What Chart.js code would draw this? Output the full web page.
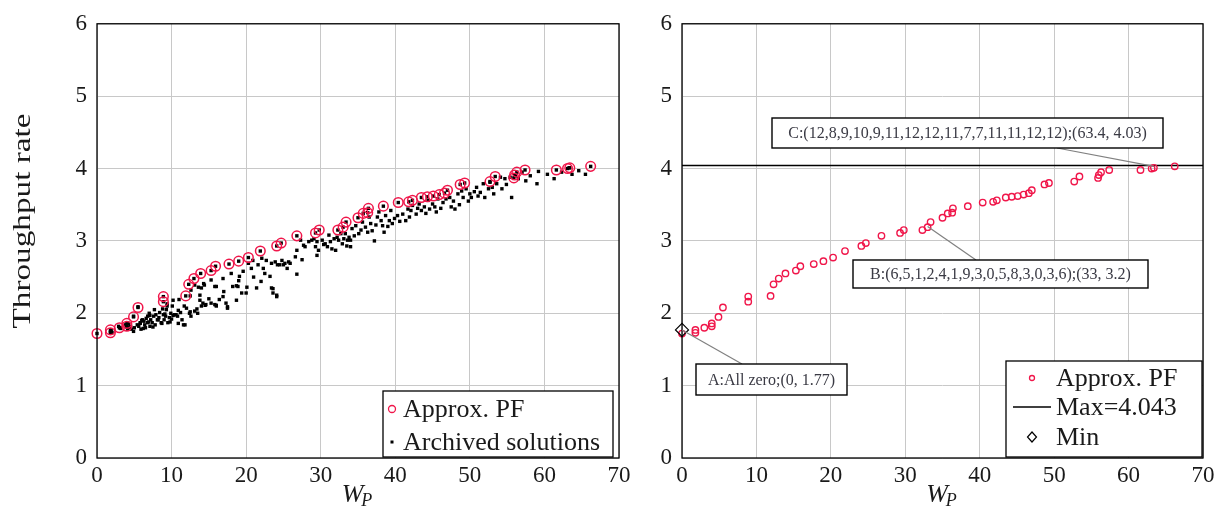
<!DOCTYPE html>
<html><head><meta charset="utf-8">
<script src="https://cdn.jsdelivr.net/npm/chart.js@4"></script>
<style>
html,body{margin:0;padding:0;background:#fff;}
#wrap{position:relative;width:1222px;height:523px;background:#fff;}
canvas{position:absolute;top:0;}
#c1{left:0;} #c2{left:640px;}
</style></head><body>
<div id="wrap"><canvas id="c1" width="640" height="523" style="width:640px;height:523px"></canvas><canvas id="c2" width="582" height="523" style="width:582px;height:523px"></canvas></div>
<script>
// ---------- data ----------
const xTicks = [0,10,20,30,40,50,60,70];
const yTicks = [0,1,2,3,4,5,6];
const xLabel = ['W','P'];
const yLabel = 'Throughput rate';
const legendLeft = ['Approx. PF','Archived solutions'];
const legendRight = ['Approx. PF','Max=4.043','Min'];
const maxThroughput = 4.043;
const minPoint = [0, 1.77];
// approximate Pareto front [W_P, throughput]
const pfPoints = [[0,1.72],[1.8,1.73],[1.8,1.77],[3.0,1.80],[4.0,1.82],[4.0,1.86],[4.9,1.95],[5.5,2.08],[8.9,2.16],[8.9,2.23],[11.9,2.24],[12.3,2.40],[13.0,2.48],[13.9,2.55],[15.3,2.59],[15.9,2.65],[17.7,2.68],[19.0,2.72],[20.3,2.77],[21.9,2.86],[24.1,2.93],[24.7,2.97],[26.8,3.07],[29.3,3.11],[29.8,3.15],[32.3,3.15],[33.0,3.19],[33.4,3.26],[35.0,3.32],[35.7,3.38],[36.3,3.39],[36.4,3.45],[38.4,3.48],[40.4,3.53],[41.8,3.54],[42.3,3.56],[43.5,3.60],[44.3,3.61],[45.1,3.62],[45.9,3.64],[46.6,3.66],[47.0,3.70],[48.7,3.78],[49.3,3.80],[52.7,3.82],[53.4,3.89],[55.9,3.87],[56.0,3.91],[56.3,3.95],[57.4,3.98],[61.6,3.98],[63.1,4.00],[63.4,4.01],[66.2,4.03]];
// archived (dominated) solutions [W_P, throughput]
const archivedPoints = [[1.8,1.74],[1.9,1.77],[2.0,1.73],[2.9,1.82],[3.1,1.80],[3.8,1.84],[4.0,1.81],[4.1,1.86],[4.1,1.78],[4.5,1.82],[4.6,1.78],[4.9,1.75],[5.0,1.80],[4.9,1.96],[5.5,2.09],[5.4,1.84],[5.6,1.82],[5.8,1.87],[5.9,1.78],[6.1,1.91],[6.3,1.89],[6.4,1.84],[6.5,1.80],[6.8,1.96],[6.8,1.87],[7.0,2.00],[7.1,1.82],[7.2,1.91],[7.4,1.87],[7.6,1.96],[7.7,2.05],[7.9,1.98],[8.1,1.91],[8.3,1.94],[8.6,1.87],[8.8,2.06],[8.9,1.98],[9.0,1.91],[9.2,1.96],[9.4,2.10],[9.5,1.87],[9.7,1.94],[9.9,2.00],[10.1,2.10],[10.4,1.98],[10.6,1.98],[10.8,1.96],[11.0,2.19],[11.4,1.91],[11.6,1.84],[11.7,2.10],[12.4,2.00],[12.6,1.96],[13.1,2.03],[13.5,2.00],[14.0,2.10],[14.2,2.14],[14.6,2.12],[15.3,2.14],[15.8,2.12],[16.0,2.10],[16.4,2.19],[16.9,2.23],[17.3,2.14],[17.5,2.07],[18.7,2.18],
[1.97,1.74],[3.2,1.79],[4.2,1.86],[4.4,1.81],[5.8,1.86],[6.2,1.79],[6.0,1.90],[6.9,1.88],[7.1,1.97],[7.5,1.81],[8.2,1.91],[8.7,1.86],[9.1,1.99],[9.8,1.88],[10.2,1.97],[10.9,1.86],[11.8,1.84],[10.9,2.04],[9.3,2.05],[10.2,2.18],[12.5,2.02],[13.4,2.06],[14.5,2.11],[16.0,2.11],[17.5,2.09],[13.8,2.25],[12.5,2.24],[9.4,2.13],[13.6,2.36],[16.0,2.37],[14.3,2.41],[18.7,2.38],[20.1,2.36],[23.6,2.34],[24.1,2.25],
[12.6,2.32],[13.1,2.39],[14.0,2.35],[14.4,2.39],[15.3,2.46],[15.8,2.37],[16.9,2.48],[18.0,2.55],[18.2,2.37],[18.9,2.37],[19.1,2.51],[19.4,2.28],[19.6,2.58],[20.0,2.28],[20.3,2.69],[20.7,2.62],[20.9,2.73],[21.4,2.35],[21.6,2.67],[22.1,2.76],[22.3,2.62],[22.5,2.55],[22.7,2.73],[23.2,2.51],[23.4,2.35],[23.6,2.28],[23.9,2.71],[24.1,2.23],[24.2,2.67],[24.5,2.67],[25.0,2.67],[25.5,2.62],[25.9,2.69],[26.8,2.87],[26.8,2.54],[27.3,3.01],[27.5,2.74],[27.9,2.92],[28.4,2.99],[29.1,3.03],[29.5,2.99],[29.7,2.87],[29.5,2.80],[30.2,3.01],[30.6,2.96],[31.1,3.08],[31.5,2.89],[31.8,3.03],[32.0,2.87],[32.4,3.01],[32.9,2.96],[33.1,3.03],[33.3,3.10],[33.6,3.01],[34.0,2.92],[34.0,3.01],[34.2,3.17],[34.7,3.21],[35.1,3.10],[35.6,3.26],[36.0,3.19],[36.3,3.12],[36.5,3.33],[36.7,3.24],[37.2,3.00],[37.6,3.33],[37.8,3.40],[38.1,3.28],[38.3,3.21],[38.5,3.12],[38.7,3.35],[39.2,3.28],[39.4,3.42],[39.6,3.24],[39.9,3.31],[40.3,3.35],[41.0,3.37],[41.4,3.28],[41.7,3.44],[42.1,3.42],[42.3,3.49],[42.8,3.37],[43.2,3.51],[43.5,3.42],[43.9,3.47],[44.4,3.56],[44.6,3.44],[45.0,3.51],[45.5,3.40],[45.7,3.58],[46.4,3.53],[46.8,3.58],[47.3,3.60],[47.5,3.47],[48.0,3.44],[48.4,3.65],[48.9,3.69],[49.1,3.60],[49.5,3.72],[50.0,3.65],[50.2,3.60],[50.9,3.74],[51.4,3.67],[51.8,3.79],[52.0,3.60],[52.5,3.72],[52.7,3.81],[53.2,3.65],[53.6,3.79],[54.1,3.88],[54.3,3.72],[54.7,3.86],[55.4,3.88],[55.6,3.60],[56.1,3.90],[56.5,3.86],[57.0,3.95],[59.0,3.79],[59.2,3.96],[60.4,3.92],[61.3,3.86],[63.3,4.01],[63.7,3.92],[65.5,3.92],
[23.4,2.69],[24.8,2.73],[25.2,2.69],[25.7,2.71],[26.6,2.78],[27.7,2.94],[28.8,3.01],[29.3,2.92],[30.9,2.92],[32.2,3.05],[32.7,3.10],[33.8,3.05],
[30.4,2.95],[31.3,2.99],[33.5,2.93],[34.5,3.07],[35.4,3.15],[36.9,3.14],[37.4,3.22],[39.0,3.20],[40.6,3.27],[41.9,3.33],[43.0,3.45],[44.1,3.38],[45.3,3.47],[46.1,3.45],[47.8,3.55],[48.6,3.50],[49.8,3.55],[50.6,3.68],[51.1,3.62],[53.0,3.74],[54.9,3.78],[57.5,3.83],[58.1,3.90],[62.3,3.95],[64.6,3.97],[6.6,1.93],[7.8,1.84],[8.4,2.01],[10.0,1.92],[11.2,2.01],[12.0,2.07],[13.8,2.18],[15.0,2.20],[17.0,2.30],[19.0,2.45],[21.0,2.50],[22.0,2.44]];
// annotated solutions
const annoLabels = ['A:All zero;(0, 1.77)','B:(6,5,1,2,4,1,9,3,0,5,8,3,0,3,6);(33, 3.2)','C:(12,8,9,10,9,11,12,12,11,7,7,11,11,12,12);(63.4, 4.03)'];
const annoW = [0, 33, 63.4];
const annoT = [1.77, 3.2, 4.03];

// ---------- styling / layout ----------
const FONT = "'Liberation Serif','Times New Roman',serif";
const RED = '#f0164a';
const toXY = arr => arr.map(p => ({x:p[0], y:p[1]}));

const decor = {
  id:'decor',
  afterDatasetsDraw(chart, args, o){
    const ctx = chart.ctx, a = chart.chartArea;
    ctx.save();
    ctx.strokeStyle = '#000'; ctx.lineWidth = 1.3;
    ctx.strokeRect(a.left, a.top, a.right - a.left, a.bottom - a.top);
    const cx = (a.left + a.right)/2;
    ctx.fillStyle = '#1a1a1a'; ctx.textAlign = 'left'; ctx.textBaseline = 'alphabetic';
    ctx.font = 'italic 26px ' + FONT; const wW = ctx.measureText(xLabel[0]).width;
    ctx.font = 'italic 18px ' + FONT; const wP = ctx.measureText(xLabel[1]).width;
    const x0 = cx - (wW + wP)/2;
    ctx.font = 'italic 26px ' + FONT; ctx.fillText(xLabel[0], x0, 502);
    ctx.font = 'italic 18px ' + FONT; ctx.fillText(xLabel[1], x0 + wW - 2, 506);
    if (o.yTitle){
      ctx.save();
      ctx.translate(o.yTitle.cx, o.yTitle.cy); ctx.rotate(-Math.PI/2);
      ctx.font = '26px ' + FONT;
      const w = ctx.measureText(yLabel).width;
      ctx.scale(o.yTitle.len / w, 1);
      ctx.textAlign = 'center'; ctx.textBaseline = 'middle';
      ctx.fillText(yLabel, 0, 0);
      ctx.restore();
    }
    if (o.annos){
      const xs = chart.scales.x, ys = chart.scales.y;
      o.annos.forEach((b, i) => {
        const px = xs.getPixelForValue(annoW[i]), py = ys.getPixelForValue(annoT[i]);
        ctx.strokeStyle = '#808080'; ctx.lineWidth = 1.2;
        ctx.beginPath(); ctx.moveTo(b.ax, b.ay); ctx.lineTo(px, py); ctx.stroke();
        ctx.fillStyle = '#fff'; ctx.fillRect(b.x, b.y, b.w, b.h);
        ctx.strokeStyle = '#000'; ctx.lineWidth = 1.4; ctx.strokeRect(b.x, b.y, b.w, b.h);
        ctx.fillStyle = '#3a3a44'; ctx.font = '16px ' + FONT;
        ctx.textAlign = 'center'; ctx.textBaseline = 'middle';
        ctx.fillText(annoLabels[i], b.x + b.w/2, b.y + b.h/2 + 1);
      });
    }
    if (o.legend){
      const L = o.legend;
      ctx.fillStyle = '#fff'; ctx.fillRect(L.x, L.y, L.w, L.h);
      ctx.strokeStyle = '#000'; ctx.lineWidth = 1.3; ctx.strokeRect(L.x, L.y, L.w, L.h);
      L.items.forEach((it, i) => {
        const y = L.rows[i];
        ctx.save();
        if (it.kind === 'circle'){
          ctx.strokeStyle = RED; ctx.lineWidth = 1.3;
          ctx.beginPath(); ctx.arc(L.mx, y, it.r, 0, Math.PI*2); ctx.stroke();
        } else if (it.kind === 'dot'){
          ctx.fillStyle = '#000'; ctx.fillRect(L.mx - 1.5, y - 1.5, 3, 3);
        } else if (it.kind === 'line'){
          ctx.strokeStyle = '#000'; ctx.lineWidth = 1.4;
          ctx.beginPath(); ctx.moveTo(L.mx - 19, y); ctx.lineTo(L.mx + 19, y); ctx.stroke();
        } else if (it.kind === 'diamond'){
          ctx.strokeStyle = '#000'; ctx.lineWidth = 1.2;
          ctx.beginPath(); ctx.moveTo(L.mx, y-5); ctx.lineTo(L.mx+4.5, y); ctx.lineTo(L.mx, y+5); ctx.lineTo(L.mx-4.5, y); ctx.closePath(); ctx.stroke();
        }
        ctx.restore();
        ctx.fillStyle = '#1a1a1a'; ctx.font = '26px ' + FONT;
        ctx.textAlign = 'left'; ctx.textBaseline = 'middle';
        ctx.fillText(it.text, L.tx, y + 1);
      });
    }
    ctx.restore();
  }
};

function scalesCfg(yWidth){
  const tickFont = {family:FONT, size:23};
  return {
    x:{type:'linear', min:0, max:70,
       afterBuildTicks: s => { s.ticks = xTicks.map(v => ({value:v})); },
       afterFit: s => { s.height = 65; },
       grid:{color:'#c8c8c8', lineWidth:1, drawTicks:false},
       border:{display:false},
       ticks:{font:tickFont, color:'#1a1a1a', padding:4, maxRotation:0, autoSkip:false}},
    y:{type:'linear', min:0, max:6,
       afterBuildTicks: s => { s.ticks = yTicks.map(v => ({value:v})); },
       afterFit: s => { s.width = yWidth; },
       grid:{color:'#c8c8c8', lineWidth:1, drawTicks:false},
       border:{display:false},
       ticks:{font:tickFont, color:'#1a1a1a', padding:10, autoSkip:false}}
  };
}

new Chart(document.getElementById('c1'), {
  type:'scatter',
  data:{datasets:[
    {label:legendLeft[0], data:toXY(pfPoints), pointStyle:'circle', pointRadius:4.8, borderColor:RED, borderWidth:1.5, backgroundColor:'rgba(0,0,0,0)', clip:false},
    {label:legendLeft[1], data:toXY(archivedPoints.concat(pfPoints)), pointStyle:'rect', pointRadius:2.4, backgroundColor:'#000', borderColor:'#000', borderWidth:0, clip:false}
  ]},
  options:{
    responsive:false, animation:false, events:[],
    layout:{padding:{top:22.7, right:21, left:0, bottom:0}},
    scales:scalesCfg(97),
    plugins:{legend:{display:false}, tooltip:{enabled:false},
      decor:{
        yTitle:{cx:23, cy:221, len:215},
        legend:{x:383, y:391, w:230, h:66, mx:392, tx:403, rows:[409,442],
          items:[{kind:'circle', r:3.5, text:legendLeft[0]},{kind:'dot', text:legendLeft[1]}]}
      }}
  },
  plugins:[decor]
});

new Chart(document.getElementById('c2'), {
  type:'scatter',
  data:{datasets:[
    {label:legendRight[2], data:[{x:minPoint[0], y:minPoint[1]}], pointStyle:'rectRot', pointRadius:6.5, borderColor:'#000', borderWidth:1.2, backgroundColor:'rgba(255,255,255,0)', clip:false},
    {label:legendRight[0], data:toXY(pfPoints), pointStyle:'circle', pointRadius:3.2, borderColor:RED, borderWidth:1.4, backgroundColor:'rgba(0,0,0,0)', clip:false},
    {label:legendRight[1], type:'line', data:[{x:xTicks[0], y:maxThroughput},{x:xTicks[xTicks.length-1], y:maxThroughput}], borderColor:'#000', borderWidth:1.5, pointRadius:0, fill:false, clip:false}
  ]},
  options:{
    responsive:false, animation:false, events:[],
    layout:{padding:{top:22.7, right:19, left:0, bottom:0}},
    scales:scalesCfg(42),
    plugins:{legend:{display:false}, tooltip:{enabled:false},
      decor:{
        annos:[
          {x:56, y:364, w:151, h:31, ax:102, ay:364},
          {x:213, y:260, w:295, h:28, ax:336, ay:260},
          {x:132, y:118, w:391, h:30, ax:417, ay:148}
        ],
        legend:{x:366, y:361, w:196, h:96, mx:392, tx:416, rows:[378,407,437],
          items:[{kind:'circle', r:2.5, text:legendRight[0]},{kind:'line', text:legendRight[1]},{kind:'diamond', text:legendRight[2]}]}
      }}
  },
  plugins:[decor]
});
</script>
</body></html>
